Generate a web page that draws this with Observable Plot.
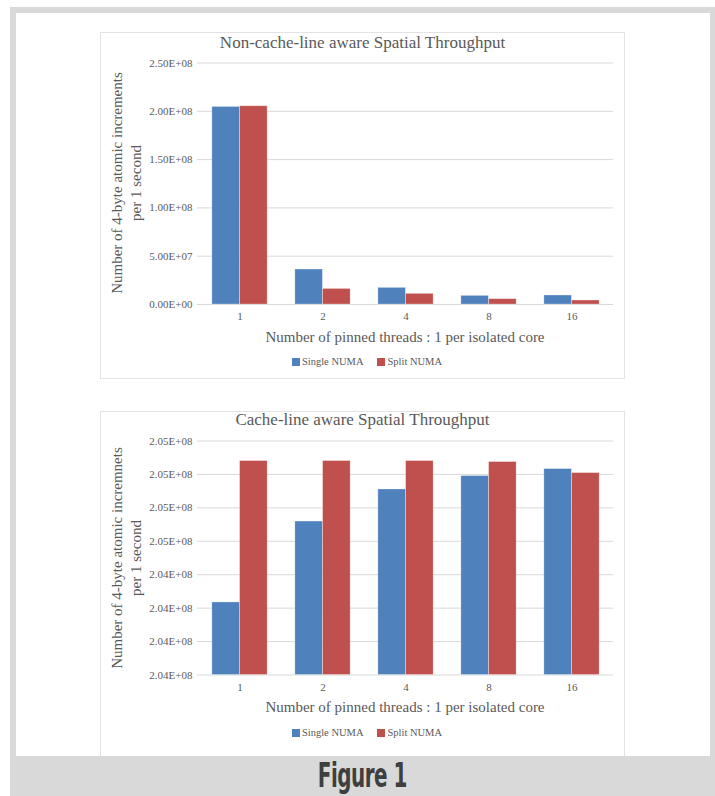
<!DOCTYPE html>
<html>
<head>
<meta charset="utf-8">
<script src="https://cdn.jsdelivr.net/npm/d3@7"></script>
<script src="https://cdn.jsdelivr.net/npm/@observablehq/plot@0.6"></script>
<style>
  html, body { margin: 0; padding: 0; background: #fff; }
  #page { position: relative; width: 715px; height: 796px; overflow: hidden; font-family: "Liberation Serif", serif; color: #595959; }
  .frame { position: absolute; left: 10px; top: 7px; width: 705px; height: 789px; background: #d9d9d9; }
  .inner { position: absolute; left: 16px; top: 13px; width: 694px; height: 743px; background: #fff; }
  .panel { position: absolute; left: 100px; width: 525px; border: 1px solid #e3e3e3; box-sizing: border-box; background: #fff; }
  .panel svg { position: absolute; left: 0; top: 0; }
  .ctitle { position: absolute; left: 0; width: 100%; text-align: center; font-size: 17px; line-height: 20px; white-space: nowrap; }
  .xtitle { position: absolute; left: 96px; width: 416px; text-align: center; font-size: 15px; line-height: 16px; white-space: nowrap; }
  .ytitle { position: absolute; width: 260px; text-align: center; font-size: 15px; line-height: 19px; white-space: nowrap; transform: rotate(-90deg); transform-origin: center center; }
  .legend { position: absolute; left: 0; width: 532px; display: flex; justify-content: center; align-items: center; font-size: 10.5px; line-height: 12px; white-space: nowrap; }
  .legend .sw { display: inline-block; width: 8px; height: 8px; margin-right: 2px; }
  .legend .item { display: flex; align-items: center; margin: 0 7px; }
  .band { position: absolute; left: 10px; top: 756px; width: 705px; height: 40px; background: #d9d9d9; }
  .fig { position: absolute; left: 10px; top: 756px; width: 705px; height: 40px; text-align: center; line-height: 40px; }
  .fig span { display: inline-block; font-family: "DejaVu Sans Condensed", "Liberation Sans Narrow", sans-serif; font-weight: bold; font-size: 27px; color: #3f3f3f; transform: scale(0.82, 1.22); letter-spacing: -0.6px; }
</style>
</head>
<body>
<div id="page">
  <div class="frame"></div>
  <div class="inner"></div>
</div>
<script>
// ---- data ----
const categories = ["1", "2", "4", "8", "16"];
const seriesNames = ["Single NUMA", "Split NUMA"];
const seriesColors = ["#4F81BD", "#C0504D"];

// Chart 1: Non-cache-line aware
const title1 = "Non-cache-line aware Spatial Throughput";
const ytitle1 = ["Number of 4-byte atomic increments", "per 1 second"];
const nonCacheSingle = [2.045e8, 3.62e7, 1.72e7, 0.89e7, 0.93e7];
const nonCacheSplit  = [2.052e8, 1.61e7, 1.10e7, 0.55e7, 0.41e7];
const yTicks1 = [0, 5e7, 1e8, 1.5e8, 2e8, 2.5e8];
const yTickLabels1 = ["0.00E+00", "5.00E+07", "1.00E+08", "1.50E+08", "2.00E+08", "2.50E+08"];

// Chart 2: Cache-line aware
const title2 = "Cache-line aware Spatial Throughput";
const ytitle2 = ["Number of 4-byte atomic incremnets", "per 1 second"];
const cacheSingle = [2.04317e8, 2.04559e8, 2.04655e8, 2.04695e8, 2.04716e8];
const cacheSplit  = [2.04740e8, 2.04740e8, 2.04740e8, 2.04737e8, 2.04704e8];
const yTicks2 = [2.041e8, 2.042e8, 2.043e8, 2.044e8, 2.045e8, 2.046e8, 2.047e8, 2.048e8];
const yTickLabels2 = ["2.04E+08", "2.04E+08", "2.04E+08", "2.04E+08", "2.05E+08", "2.05E+08", "2.05E+08", "2.05E+08"];

const xTitle = "Number of pinned threads : 1 per isolated core";
const figureCaption = "Figure 1";

// ---- drawing ----
const page = document.getElementById("page");

function makePanel(cfg) {
  const panel = document.createElement("div");
  panel.className = "panel";
  panel.style.top = cfg.top + "px";
  panel.style.height = cfg.height + "px";
  page.appendChild(panel);

  const W = 523, marginLeft = 96, marginRight = 11;
  const bandW = (W - marginLeft - marginRight) / categories.length;
  const base = cfg.yTicks[0];
  const rows = (vals) => categories.map((c, i) => ({cat: c, value: vals[i]}));

  const svg = Plot.plot({
    width: W,
    height: cfg.svgHeight,
    marginLeft, marginRight,
    marginTop: cfg.marginTop,
    marginBottom: cfg.svgHeight - cfg.plotBottom,
    style: {fontFamily: "Liberation Serif, serif", fontSize: "11px", color: "#595959", background: "transparent"},
    x: {domain: categories, padding: 0, tickSize: 0, tickPadding: 8, label: null},
    y: {domain: [cfg.yTicks[0], cfg.yTicks[cfg.yTicks.length - 1]], ticks: cfg.yTicks,
        tickFormat: d => cfg.yTickLabels[cfg.yTicks.indexOf(d)], tickSize: 0, tickPadding: 5, label: null},
    marks: [
      Plot.ruleY(cfg.yTicks, {stroke: "#d9d9d9", strokeWidth: 1}),
      Plot.barY(rows(cfg.single), {x: "cat", y1: () => base, y2: "value", fill: seriesColors[0],
        insetLeft: bandW / 6, insetRight: bandW / 2, stroke: "#ffffff", strokeOpacity: 0.35, strokeWidth: 0.8}),
      Plot.barY(rows(cfg.split), {x: "cat", y1: () => base, y2: "value", fill: seriesColors[1],
        insetLeft: bandW / 2, insetRight: bandW / 6, stroke: "#ffffff", strokeOpacity: 0.35, strokeWidth: 0.8})
    ]
  });
  panel.appendChild(svg);

  const t = document.createElement("div");
  t.className = "ctitle";
  t.style.top = cfg.titleTop + "px";
  t.textContent = cfg.title;
  panel.appendChild(t);

  const xt = document.createElement("div");
  xt.className = "xtitle";
  xt.style.top = cfg.xTitleTop + "px";
  xt.textContent = xTitle;
  panel.appendChild(xt);

  const yt = document.createElement("div");
  yt.className = "ytitle";
  const cy = (cfg.marginTop + cfg.plotBottom) / 2;
  yt.style.left = (26 - 130) + "px";
  yt.style.top = (cy - 19) + "px";
  yt.innerHTML = cfg.yTitle.join("<br>");
  panel.appendChild(yt);

  const lg = document.createElement("div");
  lg.className = "legend";
  lg.style.top = cfg.legendTop + "px";
  seriesNames.forEach((n, i) => {
    const it = document.createElement("span");
    it.className = "item";
    const sw = document.createElement("span");
    sw.className = "sw";
    sw.style.background = seriesColors[i];
    it.appendChild(sw);
    it.appendChild(document.createTextNode(n));
    lg.appendChild(it);
  });
  panel.appendChild(lg);
}

makePanel({
  top: 32, height: 347, svgHeight: 300, marginTop: 29.5, plotBottom: 271,
  title: title1, titleTop: 0, xTitleTop: 296, legendTop: 323,
  yTitle: ytitle1, yTicks: yTicks1, yTickLabels: yTickLabels1,
  single: nonCacheSingle, split: nonCacheSplit
});

makePanel({
  top: 411, height: 360, svgHeight: 300, marginTop: 28.5, plotBottom: 262.5,
  title: title2, titleTop: -2, xTitleTop: 287, legendTop: 315,
  yTitle: ytitle2, yTicks: yTicks2, yTickLabels: yTickLabels2,
  single: cacheSingle, split: cacheSplit
});

const band = document.createElement("div");
band.className = "band";
page.appendChild(band);
const fig = document.createElement("div");
fig.className = "fig";
const figSpan = document.createElement("span");
figSpan.textContent = figureCaption;
fig.appendChild(figSpan);
page.appendChild(fig);
</script>
</body>
</html>
